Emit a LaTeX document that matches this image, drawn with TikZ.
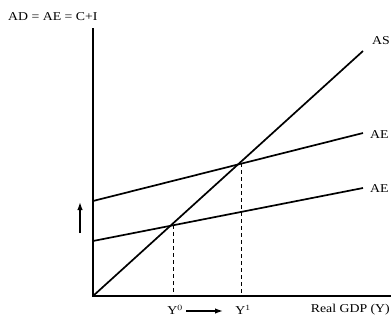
\documentclass[tikz,border=0pt]{standalone}
\usepackage{fontspec}
\setmainfont{Liberation Serif}
\usetikzlibrary{arrows.meta,calc}
\begin{document}
\begin{tikzpicture}[x=1pt,y=-1pt,
  axis/.style={line width=2.2pt},
  curve/.style={line width=1.7pt},
  guide/.style={line width=1pt,dash pattern=on 4pt off 3pt},
  lbl/.style={inner sep=0pt,font=\fontsize{12}{14}\selectfont},
  move/.style={line width=1.4pt,-{Latex[length=8pt,width=5.5pt]}}]
\useasboundingbox (0,0) rectangle (391,322);
\coordinate (O) at (93,296);
\coordinate (ytop) at (93,28);
\coordinate (xend) at (395,296);
\coordinate (ASend) at (363,51);
\coordinate (AEHs) at (93,201);
\coordinate (AEHe) at (363,133);
\coordinate (AELs) at (93,241);
\coordinate (AELe) at (363,188);
\coordinate (E0) at (173,225);
\coordinate (E1) at (241,163);
\coordinate (Y0b) at (173,296);
\coordinate (Y1b) at (241,296);
\draw[guide] (E0) -- (Y0b);
\draw[guide] (E1) -- (Y1b);
\draw[axis] (ytop) -- (O) -- (xend);
\draw[curve] (O) -- (ASend);
\draw[curve] (AEHs) -- (AEHe);
\draw[curve] (AELs) -- (AELe);
\node[lbl,anchor=west] (ylab) at (8,17) {\scalebox{1.15}[1]{AD = AE = C+I}};
\node[lbl,anchor=west] (aslab) at (372,41) {\scalebox{1.15}[1]{AS}};
\node[lbl,anchor=west] (aehlab) at (370,135) {\scalebox{1.15}[1]{AE}};
\node[lbl,anchor=west] (aellab) at (370,189) {\scalebox{1.15}[1]{AE}};
\node[lbl,anchor=east] (xlab) at (390,310) {\scalebox{1.15}[1]{Real GDP (Y)}};
\node[lbl] (y0) at (175,310) {\scalebox{1.15}[1]{Y$^{0}$}};
\node[lbl] (y1) at (243,310) {\scalebox{1.15}[1]{Y$^{1}$}};
\coordinate (hs) at (186,311);
\coordinate (he) at (223,311);
\draw[move] (hs) -- (he);
\coordinate (vs) at (80,233);
\coordinate (ve) at (80,202);
\draw[move] (vs) -- (ve);
\end{tikzpicture}
\end{document}
